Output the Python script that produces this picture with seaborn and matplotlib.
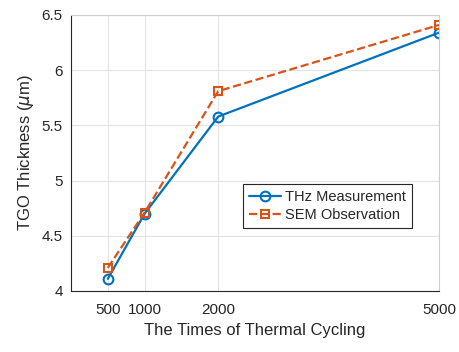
import matplotlib
matplotlib.use('Agg')
import matplotlib.pyplot as plt
import seaborn as sns
import pandas as pd

# data
cycles = [500, 1000, 2000, 5000]
thz = [4.11, 4.70, 5.58, 6.34]
sem = [4.21, 4.71, 5.81, 6.41]

df = pd.DataFrame({'cycles': cycles, 'THz Measurement': thz, 'SEM Observation': sem})

sns.set_style('whitegrid')
plt.rcParams['font.family'] = ['Liberation Sans', 'DejaVu Sans']
plt.rcParams['mathtext.fontset'] = 'dejavusans'

fig = plt.figure(figsize=(4.59, 3.52), dpi=100)
ax = fig.add_axes([71 / 459, 1 - 291 / 352, 368 / 459, 276 / 352])

sns.lineplot(data=df, x='cycles', y='THz Measurement', ax=ax, color='#0072BD',
             marker='o', markersize=7, markerfacecolor='none', markeredgecolor='#0072BD',
             markeredgewidth=1.5, linewidth=1.6, label='THz Measurement')
sns.lineplot(data=df, x='cycles', y='SEM Observation', ax=ax, color='#D95319',
             marker='s', markersize=5.5, markerfacecolor='none', markeredgecolor='#D95319',
             markeredgewidth=1.5, linewidth=1.6, linestyle='--', label='SEM Observation')

ax.set_xlim(0, 5000)
ax.set_ylim(4, 6.5)
ax.set_xticks(cycles)
ax.set_xticklabels(['500', '1000', '2000', '5000'])
ax.set_yticks([4, 4.5, 5, 5.5, 6, 6.5])
ax.set_yticklabels(['4', '4.5', '5', '5.5', '6', '6.5'])
ax.grid(True, color='#e3e3e3', linewidth=0.8)
ax.tick_params(direction='in', length=3, labelsize=11, colors='#262626', pad=6)
ax.tick_params(axis='x', pad=9)

for side in ['top', 'right']:
    ax.spines[side].set_color('#d0d0d0')
    ax.spines[side].set_linewidth(0.8)
for side in ['left', 'bottom']:
    ax.spines[side].set_color('#262626')
    ax.spines[side].set_linewidth(0.8)

ax.set_xlabel('The Times of Thermal Cycling', fontsize=12, color='#262626')
ax.set_ylabel('TGO Thickness ($\\mu$m)', fontsize=12, color='#262626')

leg = ax.legend(loc='lower left', bbox_to_anchor=(0.467, 0.228), fontsize=10.5,
                frameon=True, fancybox=False, edgecolor='#262626', framealpha=1,
                handlelength=2.2, handletextpad=0.3, borderpad=0.4, labelspacing=0.3,
                borderaxespad=0)
leg.get_frame().set_linewidth(0.8)

fig.savefig('out.png', dpi=100)
